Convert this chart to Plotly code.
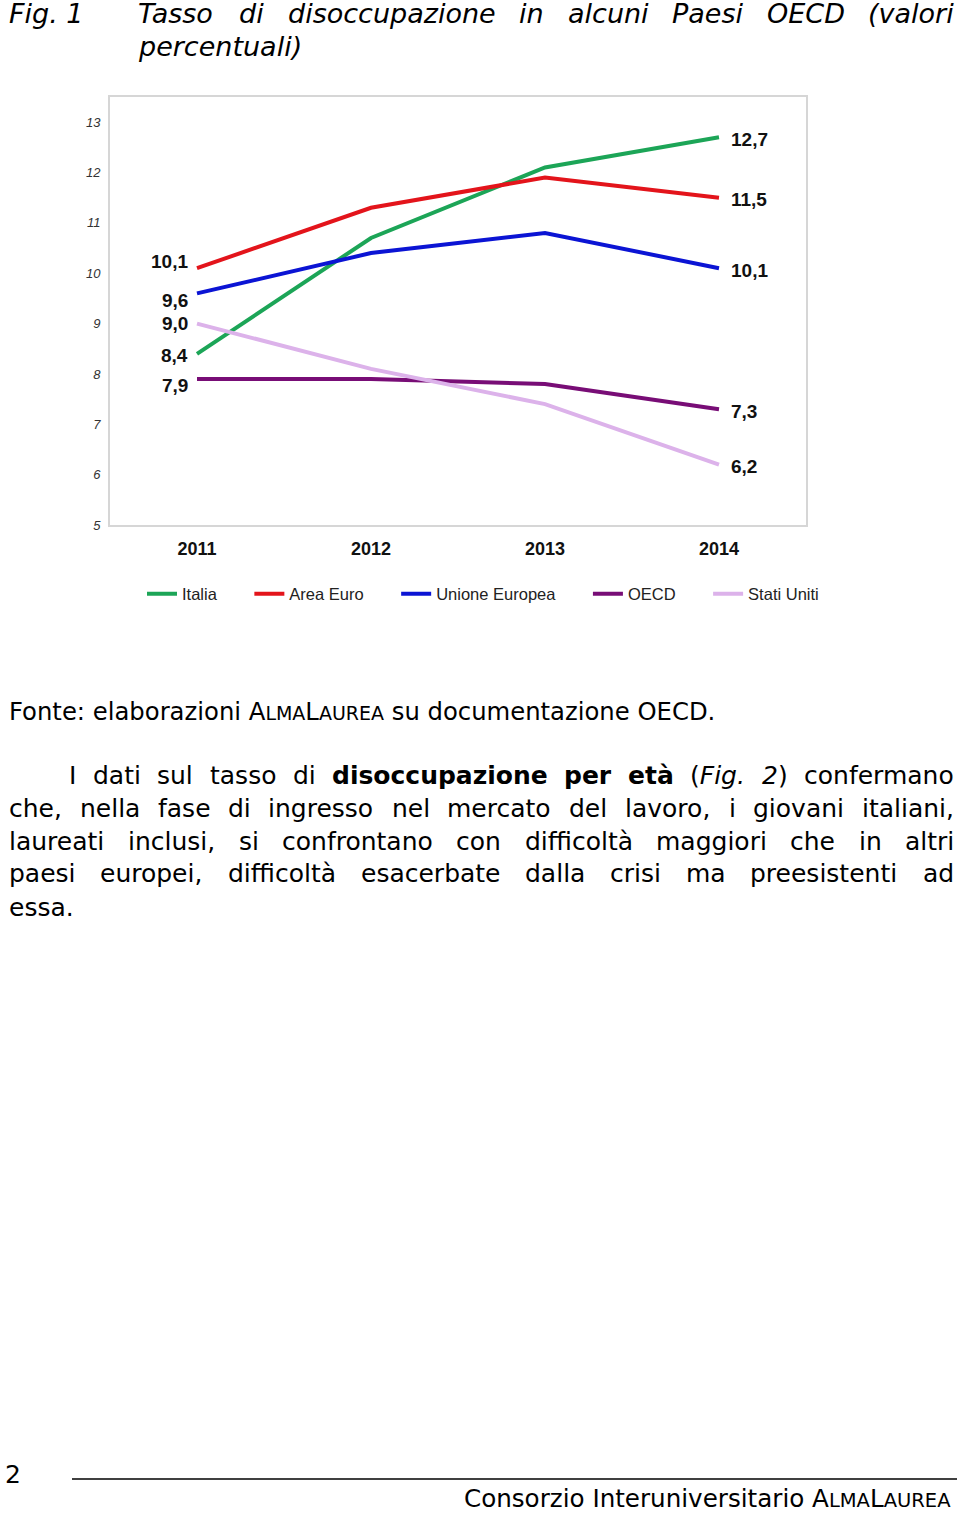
import plotly.graph_objects as go

# ---------------- data ----------------
years = ["2011", "2012", "2013", "2014"]
italia = [8.4, 10.7, 12.1, 12.7]
area_euro = [10.1, 11.3, 11.9, 11.5]
unione_europea = [9.6, 10.4, 10.8, 10.1]
oecd = [7.9, 7.9, 7.8, 7.3]
stati_uniti = [9.0, 8.1, 7.4, 6.2]
series_names = ["Italia", "Area Euro", "Unione Europea", "OECD", "Stati Uniti"]
y_tick_values = [5, 6, 7, 8, 9, 10, 11, 12, 13]

# ---------------- style ----------------
W, H = 960, 1513
colors = ["#1ca557", "#e3141b", "#0b14d4", "#780d76", "#dcb2ea"]
left_label_shift = [-2, 7, -7, -7, 0]     # vertical pixel nudges of first-year labels
right_label_shift = [-2, -2, -2, -2, -2]
BODY = "DejaVu Sans"
ARIAL = "Liberation Sans"

series = [italia, area_euro, unione_europea, oecd, stati_uniti]

fig = go.Figure()
for name, vals, col in zip(series_names, series, colors):
    fig.add_trace(go.Scatter(
        x=years, y=vals, mode="lines", name=name + "\u00a0" * 6,
        line=dict(color=col, width=4),
    ))

def fmt(v):
    return f"{v:.1f}".replace(".", ",")

annotations = []
first_idx, last_idx = 0, len(years) - 1
for vals, ls, rs in zip(series, left_label_shift, right_label_shift):
    annotations.append(dict(x=first_idx, y=vals[0], xref="x", yref="y", text=f"<b>{fmt(vals[0])}</b>",
                            showarrow=False, xanchor="right", yanchor="middle", xshift=-7, yshift=ls,
                            font=dict(family=ARIAL, size=19, color="#111")))
    annotations.append(dict(x=last_idx, y=vals[-1], xref="x", yref="y", text=f"<b>{fmt(vals[-1])}</b>",
                            showarrow=False, xanchor="left", yanchor="middle", xshift=10, yshift=rs,
                            font=dict(family=ARIAL, size=19, color="#111")))

# ---------------- text helpers ----------------
REG = {' ': 651, '!': 821, '(': 799, ')': 799, ',': 651, '-': 739, '.': 651, ':': 690,
       'A': 1401, 'B': 1405, 'C': 1430, 'D': 1577, 'E': 1294, 'F': 1178, 'G': 1587, 'H': 1540,
       'I': 604, 'J': 604, 'K': 1343, 'L': 1141, 'M': 1767, 'N': 1532, 'O': 1612, 'P': 1235,
       'Q': 1612, 'R': 1423, 'S': 1300, 'T': 1251, 'U': 1499, 'V': 1401, 'W': 2025, 'X': 1403,
       'Y': 1251, 'Z': 1403,
       'a': 1255, 'b': 1300, 'c': 1126, 'd': 1300, 'e': 1260, 'f': 721, 'g': 1300, 'h': 1298,
       'i': 569, 'j': 569, 'k': 1186, 'l': 569, 'm': 1995, 'n': 1298, 'o': 1253, 'p': 1300,
       'q': 1300, 'r': 842, 's': 1067, 't': 803, 'u': 1298, 'v': 1212, 'w': 1675, 'x': 1212,
       'y': 1212, 'z': 1075, 'à': 1255, 'è': 1260, 'é': 1260, 'ì': 569, 'ò': 1253, 'ù': 1298}
for d in "0123456789":
    REG[d] = 1303
BOLD = {' ': 713, '(': 934, ')': 934, ',': 758, '.': 758,
        'a': 1382, 'b': 1466, 'c': 1214, 'd': 1466, 'e': 1389, 'f': 891, 'g': 1466, 'h': 1458,
        'i': 702, 'j': 702, 'k': 1362, 'l': 702, 'm': 2134, 'n': 1458, 'o': 1407, 'p': 1466,
        'q': 1466, 'r': 1010, 's': 1219, 't': 979, 'u': 1458, 'v': 1335, 'w': 1892, 'x': 1300,
        'y': 1335, 'z': 1194, 'à': 1382}


def seg_width(text, style, size):
    table = BOLD if style == "b" else REG
    return sum(table.get(c, 1250) for c in text) / 2048.0 * size


def word_html(segs):
    out = ""
    for t, s in segs:
        if s == "b":
            out += f"<b>{t}</b>"
        elif s == "i":
            out += f"<i>{t}</i>"
        else:
            out += t
    return out


def justify(words, x0, x1, ycen, size, color="#000"):
    widths = [sum(seg_width(t, s, size) for t, s in w) for w in words]
    gap = (x1 - x0 - sum(widths)) / (len(words) - 1)
    x = x0
    for w, wd in zip(words, widths):
        annotations.append(dict(x=(x - 1) / W, y=1 - ycen / H, xref="paper", yref="paper",
                                text=word_html(w), showarrow=False, xanchor="left", yanchor="middle",
                                font=dict(family=BODY, size=size, color=color)))
        x += wd + gap


def plain_words(line, style="r"):
    return [[(w, style)] for w in line.split()]


def text_at(txt, x, ycen, size, anchor="left", family=BODY):
    annotations.append(dict(x=x / W, y=1 - ycen / H, xref="paper", yref="paper", text=txt,
                            showarrow=False, xanchor=anchor, yanchor="middle",
                            font=dict(family=family, size=size, color="#000")))


def smallcaps(big1, small1, big2, small2, small_size):
    sp = f"<span style='font-size:{small_size}px'>"
    return f"{big1}{sp}{small1}</span>{big2}{sp}{small2}</span>"


# ---------------- title ----------------
TS = 27
text_at("<i>Fig. 1</i>", 7, 13, TS)
justify(plain_words("Tasso di disoccupazione in alcuni Paesi OECD (valori", "i"), 137, 953, 13, TS)
text_at("<i>percentuali)</i>", 136, 46, TS)

# ---------------- body ----------------
BS = 25
alma_f = smallcaps("A", "LMA", "L", "AUREA", 19)
text_at(f"Fonte: elaborazioni {alma_f} su documentazione OECD.", 7, 711, 24.3)

line1 = [[("I", "r")], [("dati", "r")], [("sul", "r")], [("tasso", "r")], [("di", "r")],
         [("disoccupazione", "b")], [("per", "b")], [("età", "b")],
         [("(", "r"), ("Fig.", "i")], [("2", "i"), (")", "r")], [("confermano", "r")]]
justify(line1, 68, 953, 775, BS)
justify(plain_words("che, nella fase di ingresso nel mercato del lavoro, i giovani italiani,"), 8, 953, 808, BS)
justify(plain_words("laureati inclusi, si confrontano con difficoltà maggiori che in altri"), 8, 953, 841, BS)
justify(plain_words("paesi europei, difficoltà esacerbate dalla crisi ma preesistenti ad"), 8, 953, 874, BS)
text_at("essa.", 7, 907, BS)

# ---------------- footer ----------------
alma_c = smallcaps("A", "LMA", "L", "AUREA", 19.5)
text_at("2", 3, 1474, BS)
text_at(f"Consorzio Interuniversitario {alma_c}", 953, 1498, 24.6, anchor="right")

shapes = [dict(type="line", xref="paper", yref="paper", x0=72 / W, x1=957 / W,
               y0=1 - 1479 / H, y1=1 - 1479 / H, line=dict(color="#000", width=1.5))]

# ---------------- layout ----------------
plot_left, plot_right, plot_top, plot_bottom = 110, 806, 97, 525
fig.update_layout(
    width=W, height=H,
    margin=dict(l=0, r=0, t=0, b=0),
    paper_bgcolor="white", plot_bgcolor="white",
    showlegend=True,
    legend=dict(orientation="h", x=142 / W, xanchor="left", y=1 - 594 / H, yanchor="middle",
                font=dict(family=ARIAL, size=16.5, color="#222"), bgcolor="rgba(0,0,0,0)",
                itemwidth=30, tracegroupgap=0),
    xaxis=dict(domain=[plot_left / W, plot_right / W], type="category", range=[-0.5, 3.5],
               showgrid=False, zeroline=False, showline=True, mirror=True,
               linecolor="#d6d6d6", linewidth=2, ticks="", automargin=False,
               tickfont=dict(family=ARIAL, size=18, color="#111"),
               tickvals=years, ticktext=[f"<b>{y}</b>" for y in years], ticklabelstandoff=6),
    yaxis=dict(domain=[1 - plot_bottom / H, 1 - plot_top / H], range=[5, 13.5],
               tickvals=y_tick_values, ticktext=[f"<i>{v}</i>" for v in y_tick_values],
               showgrid=False, zeroline=False, showline=True, mirror=True,
               linecolor="#d6d6d6", linewidth=2, ticks="", automargin=False,
               tickfont=dict(family=ARIAL, size=13, color="#333"), ticklabelstandoff=5),
    annotations=annotations,
    shapes=shapes,
)

fig.write_html("out.html", config={"displayModeBar": False},
               post_script="document.body.style.margin='0';")
